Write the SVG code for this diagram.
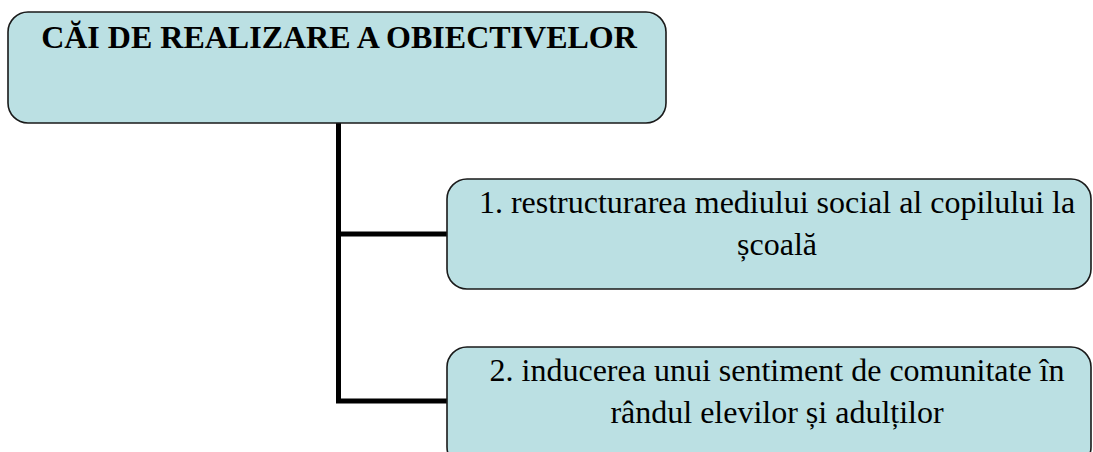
<svg xmlns="http://www.w3.org/2000/svg" width="1093" height="452" viewBox="0 0 1093 452">
<style>
.box{fill:#BBE0E3;stroke:#1a1a1a;stroke-width:1.6}
.t{font-family:'Liberation Serif','Times New Roman',serif;fill:#000;text-anchor:middle}
.title{font-size:32px;font-weight:bold}
.lbl{font-size:32px}
.conn{stroke:#000;stroke-width:5;fill:none}
</style>
<rect width="1093" height="452" fill="#fff"/>
<g id="connectors">
<path class="conn" d="M338.5 123 V401 H447"/>
<path class="conn" d="M338.5 234 H447"/>
</g>
<g id="root">
<rect class="box" x="8" y="12" width="658" height="111" rx="20"/>
<text class="t title" x="339" y="48">CĂI DE REALIZARE A OBIECTIVELOR</text>
</g>
<g id="node1">
<rect class="box" x="447" y="179" width="644" height="110" rx="20"/>
<text class="t lbl" x="777" y="213">1. restructurarea mediului social al copilului la</text>
<text class="t lbl" x="777" y="255">școală</text>
</g>
<g id="node2">
<rect class="box" x="447" y="347" width="644" height="120" rx="20"/>
<text class="t lbl" x="777" y="381">2. inducerea unui sentiment de comunitate în</text>
<text class="t lbl" x="777" y="423">rândul elevilor și adulților</text>
</g>
</svg>
